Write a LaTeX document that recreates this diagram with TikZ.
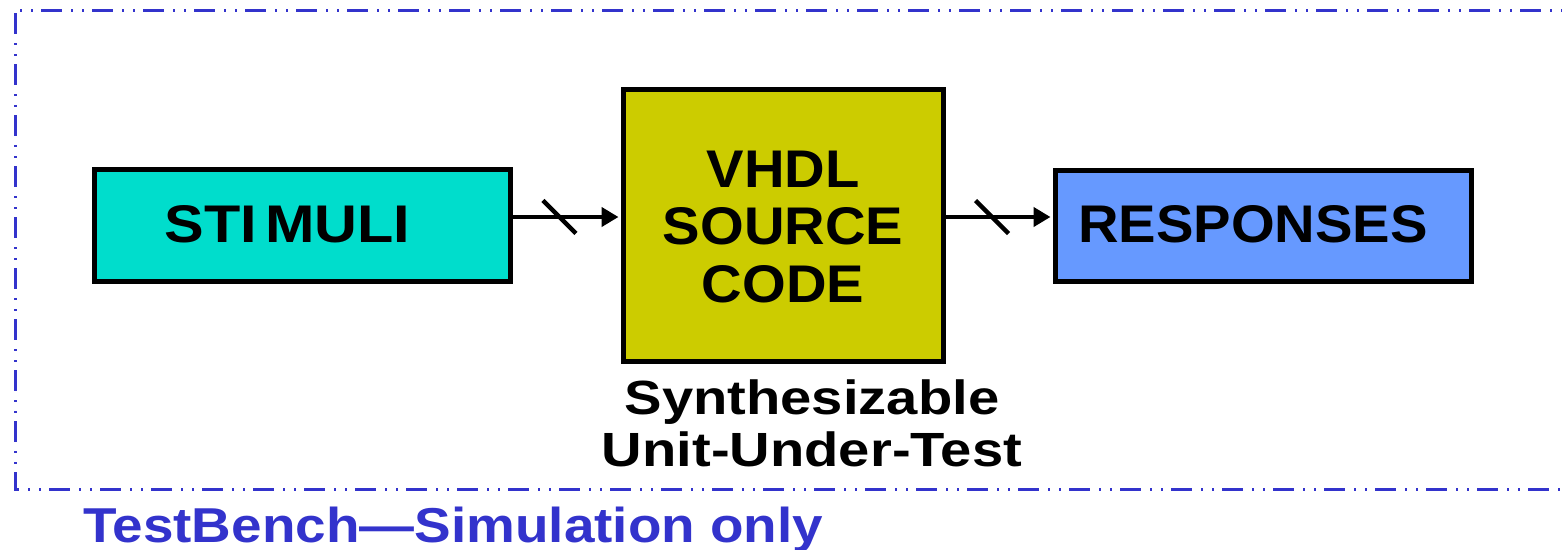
\documentclass[tikz,border=0pt]{standalone}
\usepackage{fontspec}
\setmainfont{Liberation Sans}
\newfontfamily\boxfont{Liberation Sans}[FakeStretch=1.06]
\newfontfamily\stimfont{Liberation Sans}[FakeStretch=1.12]
\newfontfamily\capfont{Liberation Sans}[FakeStretch=1.17]
\newfontfamily\benchfont{Liberation Sans}[FakeStretch=1.12]
\usetikzlibrary{arrows.meta}

\definecolor{stimfill}{RGB}{0,221,204}
\definecolor{uutfill}{RGB}{204,204,0}
\definecolor{respfill}{RGB}{102,153,255}
\definecolor{benchblue}{RGB}{51,51,204}

\tikzset{
  blockbox/.style={draw=black, line width=5pt, inner sep=0pt},
  blocktext/.style={inner sep=0pt, anchor=base, font=\boxfont\bfseries\fontsize{53}{57.5}\selectfont},
  captext/.style={inner sep=0pt, anchor=base, font=\capfont\bfseries\fontsize{48}{52}\selectfont},
  benchtext/.style={inner sep=0pt, anchor=base west, text=benchblue,
    font=\benchfont\bfseries\fontsize{49}{55}\selectfont},
  busarrow/.style={line width=4.5pt, shorten >=2.5pt,
    -{Triangle[length=17pt,width=19pt]}},
  busslash/.style={line width=4.5pt},
  frameline/.style={draw=benchblue, line width=3pt,
    dash pattern=on 21pt off 9pt on 2pt off 9pt on 2pt off 8pt}
}

\begin{document}
\begin{tikzpicture}[x=1pt, y=-1pt]
  \useasboundingbox (0,0) rectangle (1562,549);

  % testbench frame (open on the right)
  \coordinate (fTL) at (15,10);
  \coordinate (fBL) at (15,489);
  \coordinate (fTR) at (1600,10);
  \coordinate (fBR) at (1600,489);
  \begin{scope}
    \clip (0,0) rectangle (1562,549);
    \draw[frameline, dash phase=48pt] (fTL) -- (fBL) -- (fBR);
    \draw[frameline, dash phase=25pt] (fTL) -- (fTR);
  \end{scope}

  % blocks
  \node[blockbox, fill=stimfill, minimum width=416pt, minimum height=112pt]
    (stim) at (302.5,225.5) {};
  \node[blockbox, fill=uutfill, minimum width=320pt, minimum height=272pt]
    (uut) at (783.5,225.5) {};
  \node[blockbox, fill=respfill, minimum width=416pt, minimum height=111pt]
    (resp) at (1263.5,226) {};

  % block labels
  \node[blocktext, font=\stimfont\bfseries\fontsize{53}{57.5}\selectfont]
    (stimlbl) at (287.5,242) {STI\kern8pt MULI};
  \node[blocktext] (uut1) at (783,187) {VHDL};
  \node[blocktext] (uut2) at (783,244) {SOURCE};
  \node[blocktext] (uut3) at (783,302) {CODE};
  \node[blocktext] (resplbl) at (1253,242) {RESPONSES};

  % buses with slash marks
  \draw[busarrow] ([yshift=8.5pt]stim.east) --
    coordinate[pos=0.43] (s1) ([yshift=8.5pt]stim.east -| uut.west);
  \draw[busslash] ([shift={(-16.5,-16.5)}]s1) -- ([shift={(16.5,16.5)}]s1);
  \draw[busarrow] ([yshift=8.5pt]stim.east -| uut.east) --
    coordinate[pos=0.43] (s2) ([yshift=8.5pt]stim.east -| resp.west);
  \draw[busslash] ([shift={(-16.5,-16.5)}]s2) -- ([shift={(16.5,16.5)}]s2);

  % captions
  \node[captext] (cap1) at (812,414) {Synthesizable};
  \node[captext] (cap2) at (812,466) {Unit-Under-Test};
  \node[benchtext] (bench) at (83,542) {TestBench—Simulation only};
\end{tikzpicture}
\end{document}
